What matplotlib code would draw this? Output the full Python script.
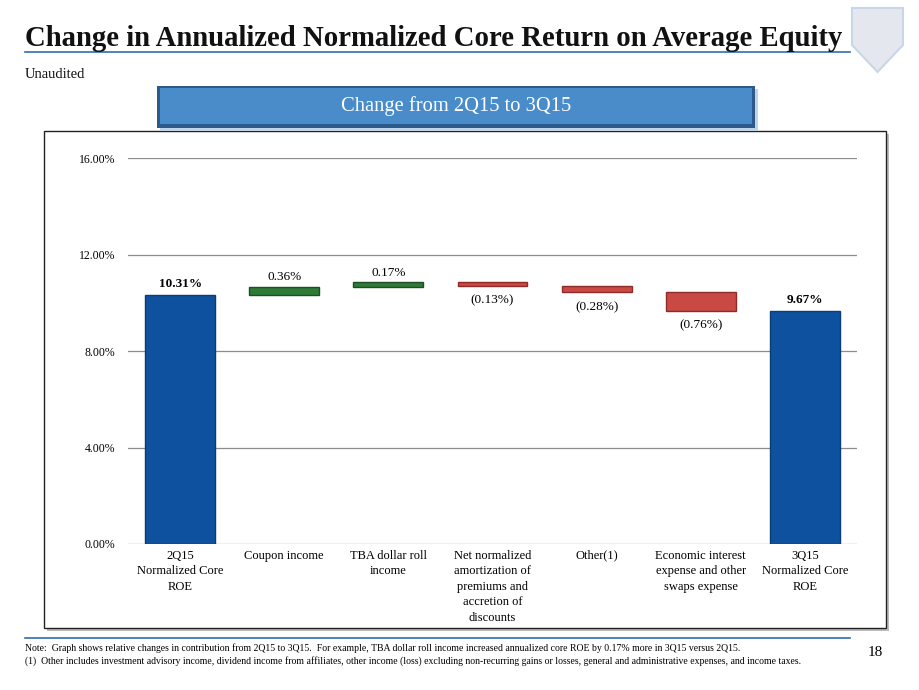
import matplotlib
matplotlib.use("Agg")
import matplotlib.pyplot as plt
from matplotlib.patches import Rectangle, Polygon
import numpy as np

categories = ["2Q15\nNormalized Core\nROE", "Coupon income", "TBA dollar roll\nincome",
              "Net normalized\namortization of\npremiums and\naccretion of\ndiscounts",
              "Other(1)", "Economic interest\nexpense and other\nswaps expense",
              "3Q15\nNormalized Core\nROE"]
start_value = 10.31
deltas = [0.36, 0.17, -0.13, -0.28, -0.76]
end_value = 9.67
value_labels = ["10.31%", "0.36%", "0.17%", "(0.13%)", "(0.28%)", "(0.76%)", "9.67%"]
yticks = [0, 4, 8, 12, 16]
ytick_labels = ["0.00%", "4.00%", "8.00%", "12.00%", "16.00%"]

SERIF = ["Liberation Serif", "DejaVu Serif"]
plt.rcParams['font.family'] = SERIF

W, H = 920, 690
fig = plt.figure(figsize=(W / 100, H / 100), dpi=100)
fig.patch.set_facecolor("white")

def fx(x): return x / W
def fy(y): return 1 - y / H

# Title
fig.text(fx(25), fy(38), "Change in Annualized Normalized Core Return on Average Equity",
         fontsize=20.7, fontweight="bold", ha="left", va="center", color="#111111")
fig.add_artist(plt.Line2D([fx(25), fx(850)], [fy(52), fy(52)], color="#2E6DB4", lw=1.2))
fig.text(fx(25), fy(74), "Unaudited", fontsize=10.5, ha="left", va="center", color="#111111")

# Shield logo
shield = Polygon([[fx(852), fy(8)], [fx(903), fy(8)], [fx(903), fy(45)], [fx(877.5), fy(72)],
                  [fx(852), fy(45)]], closed=True, transform=fig.transFigure,
                 facecolor="#E4E8EE", edgecolor="#C9D6E8", lw=1.5)
fig.add_artist(shield)

# Chart box with shadow
fig.add_artist(Rectangle((fx(47), fy(631)), fx(842), 497 / H, transform=fig.transFigure,
                         facecolor="#BBBBBB", edgecolor="none", zorder=0))
fig.add_artist(Rectangle((fx(44), fy(628)), fx(842), 497 / H, transform=fig.transFigure,
                         facecolor="white", edgecolor="#222222", lw=1.0, zorder=0.5))

# Banner
fig.add_artist(Rectangle((fx(160), fy(131)), fx(598), 42 / H, transform=fig.transFigure,
                         facecolor="#BFD3EA", edgecolor="none", zorder=1))
fig.add_artist(Rectangle((fx(157), fy(128)), fx(598), 42 / H, transform=fig.transFigure,
                         facecolor="#2C5A8A", edgecolor="none", zorder=1.1))
fig.add_artist(Rectangle((fx(160), fy(124)), fx(592), 36 / H, transform=fig.transFigure,
                         facecolor="#4A8CC9", edgecolor="none", zorder=1.2))
fig.text(fx(456), fy(106), "Change from 2Q15 to 3Q15", fontsize=14.8, color="white",
         ha="center", va="center", zorder=2)

# Axes
ax = fig.add_axes([fx(128), fy(544), fx(857 - 128), (544 - 158) / H])
ax.set_zorder(3)
ax.patch.set_alpha(0)
ax.set_ylim(0, 16)
ax.set_yticks(yticks)
ax.set_yticklabels(ytick_labels, fontsize=8.5)
ax.yaxis.grid(True, color="#8C8C8C", lw=0.9)
ax.set_axisbelow(True)
for s in ax.spines.values():
    s.set_visible(False)
ax.tick_params(axis="y", length=0, pad=9)
n = len(categories)
x = np.arange(n)
ax.set_xlim(-0.5, n - 0.5)
ax.set_xticks(x)
ax.set_xticklabels(categories, fontsize=9, linespacing=1.4)
ax.tick_params(axis="x", length=0, pad=4)

bar_w = 0.67
blue, blue_edge = "#0E529F", "#0A3C78"
green, green_edge = "#2E7A37", "#1C4F23"
red, red_edge = "#C94A45", "#8E2B28"

# Start bar
ax.bar(x[0], start_value, width=bar_w, color=blue, edgecolor=blue_edge, lw=1, zorder=3)
ax.text(x[0], start_value + 0.2, value_labels[0], ha="center", va="bottom",
        fontsize=9.5, fontweight="bold")

level = start_value
for i, d in enumerate(deltas, start=1):
    new = level + d
    bottom = min(level, new)
    if d >= 0:
        ax.bar(x[i], abs(d), bottom=bottom, width=bar_w, color=green, edgecolor=green_edge,
               lw=1, zorder=3)
        ax.text(x[i], new + 0.15, value_labels[i], ha="center", va="bottom", fontsize=9.5)
    else:
        ax.bar(x[i], abs(d), bottom=bottom, width=bar_w, color=red, edgecolor=red_edge,
               lw=1, zorder=3)
        ax.text(x[i], bottom - 0.35, value_labels[i], ha="center", va="top", fontsize=9.5)
    level = new

ax.bar(x[-1], end_value, width=bar_w, color=blue, edgecolor=blue_edge, lw=1, zorder=3)
ax.text(x[-1], end_value + 0.2, value_labels[-1], ha="center", va="bottom",
        fontsize=9.5, fontweight="bold")

# Footer
fig.add_artist(plt.Line2D([fx(25), fx(850)], [fy(638), fy(638)], color="#2E6DB4", lw=1.2))
fig.text(fx(25), fy(648), "Note:  Graph shows relative changes in contribution from 2Q15 to 3Q15.  "
         "For example, TBA dollar roll income increased annualized core ROE by 0.17% more in 3Q15 versus 2Q15.",
         fontsize=7.0, ha="left", va="center")
fig.text(fx(25), fy(661), "(1)  Other includes investment advisory income, dividend income from affiliates, "
         "other income (loss) excluding non-recurring gains or losses, general and administrative expenses, and income taxes.",
         fontsize=7.0, ha="left", va="center")
fig.text(fx(875), fy(653), "18", fontsize=11, ha="center", va="center")

fig.savefig("out.png", dpi=100, facecolor="white")
